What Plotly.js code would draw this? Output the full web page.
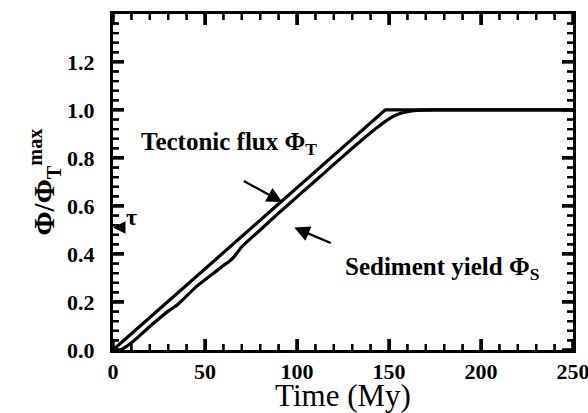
<!DOCTYPE html>
<html>
<head>
<meta charset="utf-8">
<script src="https://cdn.plot.ly/plotly-3.0.1.min.js"></script>
<style>html,body{margin:0;padding:0;background:#fff;}#chart{width:588px;height:413px;}</style>
</head>
<body>
<div id="chart"></div>
<script>
// Tectonic flux (normalized)
const tectonicTime = [0, 148, 250];
const tectonicFlux = [0, 1.0, 1.0];
// Sediment yield (normalized), lagged and slightly noisy
const sedimentTime = [0, 4, 10, 20, 30, 35, 38, 45, 55, 60, 63, 66, 70, 80, 90, 100, 110, 120, 130, 140, 145, 148, 152, 156, 160, 165, 175, 250];
const sedimentYield = [0, 0, 0.03, 0.098, 0.162, 0.188, 0.21, 0.262, 0.322, 0.352, 0.368, 0.39, 0.43, 0.5, 0.57, 0.638, 0.705, 0.773, 0.84, 0.905, 0.935, 0.952, 0.972, 0.985, 0.993, 0.998, 1.0, 1.0];
// Axis ticks: x every 50 (minor 10), y every 0.2 (minor 0.04)
const xRange = [0, 250], yRange = [0, 1.3995];
const xTickStep = 50, xMinorStep = 10;
const yTickStep = 0.2, yMinorStep = 0.04;

const serif = "Liberation Serif";
const W = 588, H = 413;
const M = {l: 113, r: 15, t: 14, b: 63};
const xPerPx = (xRange[1] - xRange[0]) / (W - M.l - M.r);
const yPerPx = (yRange[1] - yRange[0]) / (H - M.t - M.b);

// inside tick marks on all four sides, built from the axis ranges and steps
const tickShapes = [];
function tickTrace(xStep, yStep, lenPx, width) {
  const xs = [], ys = [];
  const xl = lenPx * yPerPx, yl = lenPx * xPerPx;
  const ln = {color: "#000", width: width};
  const nx = Math.round((xRange[1] - xRange[0]) / xStep);
  for (let i = 0; i <= nx; i++) {
    const v = xRange[0] + i * xStep;
    xs.push(v, v, null, v, v, null);
    ys.push(yRange[0], yRange[0] + xl, null, yRange[1], yRange[1] - xl, null);
    tickShapes.push({type: "line", xref: "x", yref: "y", x0: v, x1: v, y0: yRange[0], y1: yRange[0] + xl, line: ln, layer: "above"});
    tickShapes.push({type: "line", xref: "x", yref: "y", x0: v, x1: v, y0: yRange[1], y1: yRange[1] - xl, line: ln, layer: "above"});
  }
  const ny = Math.floor((yRange[1] - yRange[0]) / yStep + 1e-6);
  for (let i = 0; i <= ny; i++) {
    const v = yRange[0] + i * yStep;
    xs.push(xRange[0], xRange[0] + yl, null, xRange[1], xRange[1] - yl, null);
    ys.push(v, v, null, v, v, null);
    tickShapes.push({type: "line", xref: "x", yref: "y", x0: xRange[0], x1: xRange[0] + yl, y0: v, y1: v, line: ln, layer: "above"});
    tickShapes.push({type: "line", xref: "x", yref: "y", x0: xRange[1], x1: xRange[1] - yl, y0: v, y1: v, line: ln, layer: "above"});
  }
  return {x: xs, y: ys, mode: "lines", line: {color: "#000", width: width}, showlegend: false, hoverinfo: "skip", connectgaps: false};
}

const traces = [
  tickTrace(xMinorStep, yMinorStep, 6, 2.2),
  tickTrace(xTickStep, yTickStep, 11, 3),
  {x: tectonicTime, y: tectonicFlux, mode: "lines", line: {color: "#000", width: 3.2}, showlegend: false, hoverinfo: "skip"},
  {x: sedimentTime, y: sedimentYield, mode: "lines", line: {color: "#000", width: 3.2, shape: "spline", smoothing: 0.6}, showlegend: false, hoverinfo: "skip"}
];

const layout = {
  width: W, height: H,
  margin: M,
  paper_bgcolor: "#fff", plot_bgcolor: "#fff",
  font: {family: serif, color: "#000"},
  xaxis: {
    range: xRange, tickmode: "linear", tick0: 0, dtick: xTickStep,
    showgrid: false, zeroline: false, showline: true, linecolor: "#000", linewidth: 3, mirror: "ticks",
    ticks: "inside", ticklen: 11, tickwidth: 3, tickcolor: "#000", ticklabeloverflow: "allow",
    tickfont: {family: serif, size: 22, color: "#000", weight: "bold"},
    title: {text: "Time (My)", font: {family: serif, size: 31, color: "#000"}, standoff: 6}
  },
  yaxis: {
    range: yRange, tickmode: "linear", tick0: 0, dtick: yTickStep, tickformat: ".1f",
    ticksuffix: "\u2002",
    showgrid: false, zeroline: false, showline: true, linecolor: "#000", linewidth: 3, mirror: "ticks",
    ticks: "inside", ticklen: 11, tickwidth: 3, tickcolor: "#000",
    tickfont: {family: serif, size: 22, color: "#000", weight: "bold"},
    title: {text: "<b>Φ/Φ<sub>T</sub><sup>max</sup></b>", font: {family: serif, size: 29, color: "#000"}, standoff: 4}
  },
  shapes: tickShapes,
  annotations: [
    {x: 92, y: 0.616, xref: "x", yref: "y", ax: -40, ay: -22, showarrow: true, arrowhead: 2, arrowsize: 1.4, arrowwidth: 2.2, arrowcolor: "#000", text: ""},
    {x: 98.5, y: 0.51, xref: "x", yref: "y", ax: 38, ay: 16, showarrow: true, arrowhead: 2, arrowsize: 1.4, arrowwidth: 2.2, arrowcolor: "#000", text: ""},
    {x: 14, y: 0.86, xref: "x", yref: "y", xanchor: "left", yanchor: "middle", showarrow: false,
     text: "<b>Tectonic flux Φ<sub>T</sub></b>", font: {family: serif, size: 25, color: "#000"}},
    {x: 125, y: 0.34, xref: "x", yref: "y", xanchor: "left", yanchor: "middle", showarrow: false,
     text: "<b>Sediment yield Φ<sub>S</sub></b>", font: {family: serif, size: 25, color: "#000"}},
    {x: 6, y: 0.555, xref: "x", yref: "y", xanchor: "left", yanchor: "middle", showarrow: false,
     text: "<b>τ</b>", font: {family: serif, size: 24, color: "#000"}},
    {x: 0, y: 0.51, xref: "x", yref: "y", ax: 10, ay: 0, showarrow: true, arrowhead: 2, arrowsize: 1, arrowwidth: 2.5, arrowcolor: "#000", text: ""}
  ]
};

Plotly.newPlot("chart", traces, layout, {displayModeBar: false});
</script>
</body>
</html>
